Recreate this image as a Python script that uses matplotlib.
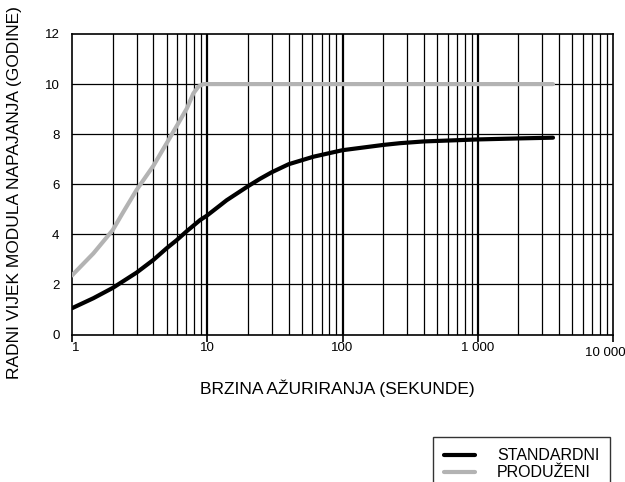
import matplotlib

matplotlib.use("Agg")
import matplotlib.pyplot as plt  # noqa: E402
import matplotlib.transforms as mtransforms  # noqa: E402

plt.rcParams["font.family"] = ["Liberation Sans", "DejaVu Sans"]

# values
std_x = [1, 1.44, 2, 3, 4, 5, 5.95, 7.07, 8.85, 9.9, 12.4, 13.9, 20, 24.6,
         30, 40, 61, 100, 200, 266, 400, 1000, 2000, 3600]
std_y = [1.05, 1.45, 1.86, 2.47, 2.98, 3.44, 3.77, 4.13, 4.57, 4.74, 5.15,
         5.36, 5.92, 6.22, 6.48, 6.8, 7.1, 7.36, 7.57, 7.64, 7.71, 7.79, 7.83,
         7.86]
ext_x = [1, 1.44, 2, 2.4, 3, 4, 5, 6.1, 7.07, 7.9, 8.6, 9.35, 3600]
ext_y = [2.36, 3.24, 4.17, 4.9, 5.77, 6.74, 7.63, 8.43, 9.03, 9.63, 9.9, 10.0,
         10.0]

x_ticks = [1, 10, 100, 1000, 10000]
x_labels = ["1", "10", "100", "1 000", "10 000"]
y_ticks = [0, 2, 4, 6, 8, 10, 12]

fig = plt.figure(figsize=(6.25, 4.82), dpi=100)
ax = fig.add_axes([72 / 625, 1 - 334.5 / 482, 541 / 625, 300.5 / 482])

ax.set_xscale("log")
ax.set_xlim(1, 10000)
ax.set_ylim(0, 12)

# grid drawn by hand so that major decades are heavier
minor = [m * 10 ** d for d in range(4) for m in range(2, 10)]
for xv in minor:
    ax.axvline(xv, color="black", lw=0.9, zorder=1)
for xv in x_ticks[1:-1]:
    ax.axvline(xv, color="black", lw=1.6, zorder=1)
for yv in y_ticks[1:-1]:
    ax.axhline(yv, color="black", lw=0.9, zorder=1)

ax.plot(ext_x, ext_y, color="#b3b3b3", lw=3.0, solid_capstyle="round",
        solid_joinstyle="round", zorder=3, label="PRODUŽENI")
ax.plot(std_x, std_y, color="black", lw=3.0, solid_capstyle="round",
        solid_joinstyle="round", zorder=3, label="STANDARDNI")

for side in ax.spines.values():
    side.set_linewidth(1.2)

ax.set_yticks(y_ticks)
ax.set_yticklabels([str(v) for v in y_ticks], fontsize=9.5)
ax.tick_params(axis="y", length=0, pad=9)
ax.set_xticks(x_ticks)
ax.set_xticklabels([])
ax.xaxis.set_minor_locator(matplotlib.ticker.NullLocator())
ax.tick_params(axis="x", length=5, width=1.2, direction="out")

trans = mtransforms.blended_transform_factory(ax.transData, ax.transAxes)
label_offsets = {1: (1.06, -0.045), 10000: (0.88, -0.06)}
for xv, text in zip(x_ticks, x_labels):
    fx, yy = label_offsets.get(xv, (1.0, -0.045))
    ax.text(xv * fx, yy, text, transform=trans, ha="center", va="center",
            fontsize=9.5)

fig.text(337 / 625, 1 - 388 / 482, "BRZINA AŽURIRANJA (SEKUNDE)",
         ha="center", va="center", fontsize=12.5)
fig.text(15 / 625, 1 - 193 / 482, "RADNI VIJEK MODULA NAPAJANJA (GODINE)",
         ha="center", va="center", rotation=90, fontsize=12.5)

handles, labels = ax.get_legend_handles_labels()
leg = fig.legend(handles[::-1], labels[::-1], loc="upper left",
                 bbox_to_anchor=(433 / 625, 1 - 437 / 482),
                 fontsize=11.5, frameon=True, fancybox=False,
                 handlelength=1.9, borderpad=0.7, labelspacing=0.12,
                 handletextpad=1.4, borderaxespad=0)
leg.get_frame().set_edgecolor("black")
leg.get_frame().set_linewidth(1.0)

fig.savefig("out.png", dpi=100)
plt.close(fig)
